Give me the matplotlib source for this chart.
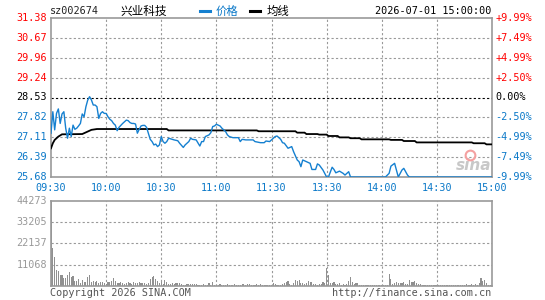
import matplotlib
matplotlib.use('Agg')
import matplotlib.pyplot as plt
from matplotlib.lines import Line2D
import numpy as np

# ---------------- data ----------------
code = "sz002674"
name = "兴业科技"
stamp = "2026-07-01 15:00:00"
prev_close = 28.53
price_ticks = [31.38, 30.67, 29.96, 29.24, 28.53, 27.82, 27.11, 26.39, 25.68]
pct_labels = ['+9.99%', '+7.49%', '+4.99%', '+2.50%', '0.00%',
              '-2.50%', '-4.99%', '-7.49%', '-9.99%']
vol_ticks = [44273, 33205, 22137, 11068]
time_ticks = [0, 30, 60, 90, 120, 150, 180, 210, 240]
time_labels = ['09:30', '10:00', '10:30', '11:00', '11:30',
               '13:30', '14:00', '14:30', '15:00']

price_min = [0, 1, 2, 3, 4, 5, 6, 7, 8, 9, 10, 11, 12, 13, 14, 15, 16, 17, 18, 19,
             20, 21, 22, 23, 24, 25, 26, 27, 28, 29, 30, 31, 32, 33, 34, 35, 36, 37, 38, 39,
             40, 41, 42, 43, 44, 45, 46, 47, 48, 49, 50, 51, 52, 53, 54, 55, 56, 57, 58, 59,
             60, 61, 62, 63, 64, 67, 69, 70, 72, 73, 75, 76, 77, 79, 81, 82, 83, 84, 86, 87,
             88, 89, 90, 92, 93, 95, 96, 97, 99, 102, 103, 104, 106, 110, 111, 114, 116, 117, 119, 121,
             122, 123, 125, 126, 127, 129, 131, 132, 134, 135, 136, 137, 139, 141, 142, 144, 145, 146, 148, 150,
             151, 153, 154, 155, 157, 159, 160, 162, 163, 182, 184, 185, 187, 189, 191, 192, 194, 195, 240]
price_val = [27.25, 28.02, 27.37, 27.96, 28.12, 27.60, 27.94, 28.02, 27.43, 27.07,
             27.43, 27.13, 27.54, 27.39, 27.43, 27.51, 27.60, 27.94, 27.84, 28.20,
             28.44, 28.56, 28.44, 28.26, 28.26, 28.20, 27.78, 27.96, 28.02, 27.96,
             27.96, 27.84, 27.75, 27.70, 27.60, 27.54, 27.34, 27.46, 27.53, 27.60,
             27.66, 27.72, 27.70, 27.63, 27.60, 27.60, 27.58, 27.25, 27.39, 27.51,
             27.53, 27.53, 27.46, 27.25, 27.03, 26.95, 26.83, 26.86, 26.77, 26.83,
             27.13, 26.95, 26.89, 26.95, 27.07, 27.01, 26.98, 26.89, 26.74, 26.83,
             26.95, 27.07, 27.03, 27.01, 26.79, 26.95, 26.95, 27.13, 27.19, 27.27,
             27.49, 27.51, 27.57, 27.51, 27.43, 27.31, 27.19, 27.13, 27.09, 27.09,
             26.95, 27.03, 27.01, 27.01, 26.95, 26.91, 26.91, 26.97, 26.95, 27.07,
             27.13, 27.15, 27.03, 26.91, 26.89, 26.71, 26.77, 26.59, 26.29, 26.23,
             26.05, 26.29, 26.23, 26.17, 25.95, 25.95, 26.15, 26.11, 25.93, 25.68,
             25.68, 26.03, 25.95, 25.83, 25.89, 25.81, 25.75, 25.87, 25.68, 25.68,
             25.81, 26.07, 26.17, 25.68, 25.93, 25.99, 25.75, 25.68, 25.68]

avg_min = [0, 1, 2, 4, 6, 17, 20, 22, 25, 63, 64, 112, 113, 133, 134, 138, 139, 145, 146, 150,
           151, 156, 157, 162, 163, 168, 169, 184, 185, 191, 192, 198, 199, 229, 230, 236, 237, 240]
avg_val = [26.71, 26.89, 27.01, 27.13, 27.21, 27.22, 27.31, 27.37, 27.40, 27.40,
           27.35, 27.35, 27.32, 27.32, 27.27, 27.27, 27.22, 27.22, 27.20, 27.20,
           27.15, 27.15, 27.10, 27.10, 27.07, 27.07, 27.03, 27.03, 27.01, 27.01,
           26.97, 26.97, 26.92, 26.92, 26.89, 26.89, 26.85, 26.85]

volume = [44273, 19700, 15300, 8400, 7900, 5800, 5800, 4400, 4400, 5800,
          7400, 4900, 5300, 2600, 2600, 3900, 1400, 3200, 2100, 2100,
          4900, 5800, 2100, 2600, 2100, 2600, 1400, 2100, 2100, 1400,
          1100, 2100, 2100, 2600, 4200, 2600, 1400, 1800, 2100, 1400,
          1100,
          1400, 2100, 1400, 1100, 2100, 1800, 1400, 2100, 1800, 1400, 1400, 1100, 1400,
          3900, 4900, 5300, 3500, 2600, 1400, 2100, 900, 3200,
          2100, 900, 900, 1400, 900, 1400, 1400, 1400, 1100, 700,
          700, 1100, 1100, 1100, 1100, 1100, 1100, 700, 700, 700,
          1100, 700, 700, 1400, 700, 2000, 700, 700,
          700, 1100, 700, 700, 700, 1100, 700, 700, 700, 1100,
          700, 700, 700, 1100, 1100, 700, 1100, 1100, 700, 700,
          700, 1100, 700, 1100, 700, 700,
          500, 500, 700, 700, 1400, 1100, 700, 700, 700, 1100,
          1400, 2100, 2500, 1100, 700, 1400, 3200, 2500, 3200, 1400,
          1400, 1100, 1400, 2600, 2100, 2100, 1100, 1100, 700, 1100,
          1100, 2100, 1400,
          9500, 5800, 1400, 1800, 2100, 1100, 1100, 1400, 700, 1100,
          700, 1100, 2600, 4700, 2100, 1100, 1400, 1400, 500, 500, 500,
          700, 500, 500, 700, 500, 500, 700, 500, 500, 700, 500, 700, 700,
          6500, 3900, 1100, 1800, 2100, 1400, 1400, 1400, 2100, 1100,
          1100, 3200, 2100, 2100, 2600, 1400, 1100,
          1100, 700, 700, 500, 500, 500, 700, 500, 500, 500,
          700, 500, 500, 500, 500, 700, 500, 500, 500, 500,
          500, 500, 700, 500, 500, 1100, 700, 500, 1100, 700,
          1100, 700,
          1400, 4400, 2800, 3000, 1800, 700, 500, 500]

# ---------------- style ----------------
W, H = 545, 300
BLUE = '#0a78c8'
LINE_BLUE = '#1580d0'
RED = '#ff0000'
GRAY = '#999999'
GRID = '#999999'
GRID_LS = (0, (2, 2))
MONO = 'DejaVu Sans Mono'
CJK = ['Noto Sans CJK SC', 'DejaVu Sans']

def fx(x):
    return x / W

def fy(y):
    return 1 - y / H

fig = plt.figure(figsize=(W / 100, H / 100), dpi=100)
fig.patch.set_facecolor('white')

L, R = 51, 492
ax = fig.add_axes([fx(L), fy(177), fx(R) - fx(L), fy(18) - fy(177)])
axv = fig.add_axes([fx(L), fy(286), fx(R) - fx(L), fy(201) - fy(286)])

ax.set_ylim(price_ticks[-1], price_ticks[0])
axv.set_ylim(0, vol_ticks[0])

for a in (ax, axv):
    a.set_xlim(0, 240)
    for s in a.spines.values():
        s.set_color(GRAY)
        s.set_linewidth(1.2)
    a.tick_params(length=0)
    a.set_xticks([])
    a.set_yticks([])
    for t in time_ticks[1:-1]:
        a.axvline(t, color=GRID, lw=0.8, ls=GRID_LS, zorder=1.5)

# price panel
for v in price_ticks[1:-1]:
    if v == prev_close:
        ax.axhline(v, color='black', lw=0.8, ls=(0, (2, 2)), zorder=1.6)
    else:
        ax.axhline(v, color=GRID, lw=0.8, ls=GRID_LS, zorder=1.5)

ytr = ax.get_yaxis_transform()
for v, p in zip(price_ticks, pct_labels):
    if v > prev_close:
        c = RED
    elif v < prev_close:
        c = BLUE
    else:
        c = 'black'
    ax.text(-0.009, v, f"{v:.2f}", transform=ytr, ha='right', va='center',
            fontsize=7.3, family=MONO, color=c)
    ax.text(1.007, v, p, transform=ytr, ha='left', va='center',
            fontsize=7.3, family=MONO, color=c)

xtr = ax.get_xaxis_transform()
for t, lab in zip(time_ticks, time_labels):
    ax.text(t, -0.07, lab, transform=xtr, ha='center', va='center',
            fontsize=7.3, family=MONO, color=BLUE)

ax.plot(avg_min, avg_val, color='black', lw=1.3, zorder=3, solid_joinstyle='miter')
ax.plot(price_min, price_val, color=LINE_BLUE, lw=1.0, zorder=4)

# volume panel
for v in vol_ticks[1:]:
    axv.axhline(v, color=GRID, lw=0.8, ls=GRID_LS, zorder=1.5)
vtr = axv.get_yaxis_transform()
for v in vol_ticks:
    axv.text(-0.009, v, f"{v}", transform=vtr, ha='right', va='center',
             fontsize=7.3, family=MONO, color=GRAY)
axv.bar(np.arange(len(volume)), volume, width=0.6, color='#909090', zorder=2)

# header
fig.text(fx(50), fy(11.5), code, ha='left', va='center', fontsize=7.3, family=MONO, color='#222222')
fig.text(fx(120), fy(11.5), name, ha='left', va='center', fontsize=8.4, family=CJK, color='black')
fig.add_artist(Line2D([fx(200), fx(210)], [fy(10.5), fy(10.5)], color=LINE_BLUE, lw=2.2))
fig.text(fx(216), fy(11.5), '价格', ha='left', va='center', fontsize=8.2, family=CJK, color=BLUE)
fig.add_artist(Line2D([fx(250), fx(260)], [fy(10.5), fy(10.5)], color='black', lw=2.2))
fig.text(fx(267), fy(11.5), '均线', ha='left', va='center', fontsize=8.2, family=CJK, color='black')
fig.text(fx(491), fy(11.5), stamp, ha='right', va='center', fontsize=7.3, family=MONO, color='black')

# footer
fig.text(fx(50), fy(292.5), 'Copyright 2026 SINA.COM', ha='left', va='center',
         fontsize=7.3, family=MONO, color='#555555')
fig.text(fx(491.5), fy(292.5), 'http://finance.sina.com.cn', ha='right', va='center',
         fontsize=7.3, family=MONO, color='#555555')

# watermark
fig.text(fx(474), fy(165), 'sina', ha='center', va='center', fontsize=11,
         fontweight='bold', style='italic', family='DejaVu Sans', color='#c8c8c8', zorder=1)
fig.add_artist(Line2D([fx(470)], [fy(155)], marker='o', markersize=7,
                      markerfacecolor='none', markeredgecolor='#f4a0a0', markeredgewidth=1.5))

fig.savefig('out.png', dpi=100, facecolor='white')
